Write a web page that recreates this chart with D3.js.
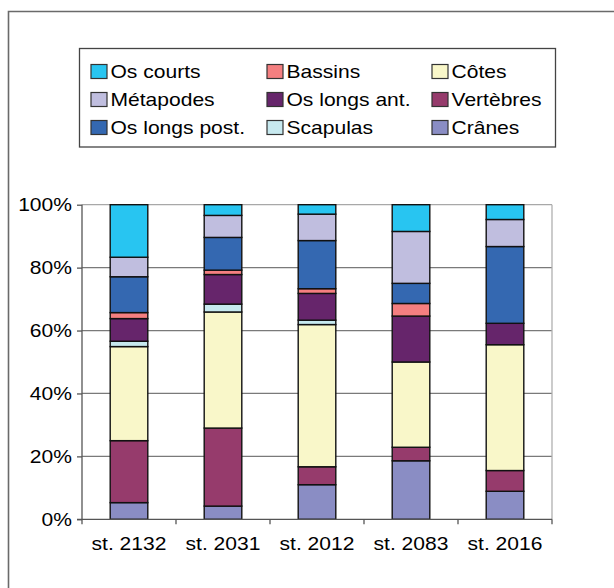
<!DOCTYPE html>
<html>
<head>
<meta charset="utf-8">
<script src="https://cdn.jsdelivr.net/npm/d3@7"></script>
<style>
  html, body { margin: 0; padding: 0; background: #fff; }
  svg { display: block; }
  text { font-family: "Liberation Sans", Arial, sans-serif; fill: #000; }
</style>
</head>
<body>
<svg id="chart" width="614" height="588"></svg>
<script>
// Sites (structures) and the share of each skeletal part, in percent
const categories = ["st. 2132", "st. 2031", "st. 2012", "st. 2083", "st. 2016"];
const cranes      = [5.3, 4.2, 11.0, 18.6, 8.9];
const vertebres   = [19.7, 24.8, 5.7, 4.3, 6.6];
const cotes       = [29.9, 36.9, 45.2, 27.1, 40.0];
const scapulas    = [1.7, 2.5, 1.4, 0, 0];
const osLongsAnt  = [7.2, 9.4, 8.5, 14.6, 6.8];
const bassins     = [1.9, 1.4, 1.5, 4.0, 0];
const osLongsPost = [11.4, 10.4, 15.3, 6.4, 24.4];
const metapodes   = [6.2, 7.0, 8.4, 16.5, 8.6];
const osCourts    = [16.7, 3.4, 3.0, 8.5, 4.7];
const yTicks      = [0, 0.2, 0.4, 0.6, 0.8, 1];

// Stack order, bottom to top
const seriesNames = ["Crânes", "Vertèbres", "Côtes", "Scapulas", "Os longs ant.",
                     "Bassins", "Os longs post.", "Métapodes", "Os courts"];
const seriesValues = [cranes, vertebres, cotes, scapulas, osLongsAnt,
                      bassins, osLongsPost, metapodes, osCourts];
const colors = {
  "Os courts": "#28c5f1",
  "Bassins": "#f47f80",
  "Côtes": "#f9f7c9",
  "Métapodes": "#c0bedf",
  "Os longs ant.": "#66256b",
  "Vertèbres": "#963b6c",
  "Os longs post.": "#3468b1",
  "Scapulas": "#c7e9ef",
  "Crânes": "#8a8dc4"
};
// Legend reading order (three columns, row by row)
const legendOrder = ["Os courts", "Bassins", "Côtes",
                     "Métapodes", "Os longs ant.", "Vertèbres",
                     "Os longs post.", "Scapulas", "Crânes"];

const rows = categories.map((c, i) => {
  const r = { cat: c };
  seriesNames.forEach((s, k) => { r[s] = seriesValues[k][i]; });
  return r;
});

const svg = d3.select("#chart");
const FS = 18, SX = 1.17; // text is drawn slightly widened

function label(g, x, y, str, anchor) {
  return g.append("text")
    .attr("transform", `translate(${x},${y}) scale(${SX},1)`)
    .attr("text-anchor", anchor || "start")
    .attr("font-size", FS)
    .text(str);
}

// Outer frame
svg.append("path")
  .attr("d", "M8.5,588 V11.5 H614")
  .attr("fill", "none").attr("stroke", "#6a6a6a").attr("stroke-width", 1.6);

// Plot area
const plot = { left: 82, right: 552, top: 204.7, bottom: 519.3 };

const x = d3.scaleBand().domain(categories)
  .range([plot.left, plot.right]).paddingInner(0.6).paddingOuter(0.3);
const y = d3.scaleLinear().domain([0, 1]).range([plot.bottom, plot.top]);

// Horizontal gridlines
svg.append("g").selectAll("line")
  .data(yTicks.filter(t => t > 0))
  .join("line")
  .attr("x1", plot.left).attr("x2", plot.right)
  .attr("y1", d => y(d)).attr("y2", d => y(d))
  .attr("stroke", d => d === 1 ? "#a8a8a8" : "#7a7a7a").attr("stroke-width", 1.3);

// Right border of the plot area
svg.append("line")
  .attr("x1", plot.right).attr("x2", plot.right)
  .attr("y1", plot.top).attr("y2", plot.bottom)
  .attr("stroke", "#b0b0b0").attr("stroke-width", 1.3);

// Stacked bars, normalised to 100 %
const stack = d3.stack().keys(seriesNames).offset(d3.stackOffsetExpand);
const layers = stack(rows);

svg.append("g").selectAll("g")
  .data(layers)
  .join("g")
  .attr("fill", d => colors[d.key])
  .selectAll("rect")
  .data(d => d.filter(p => p[1] - p[0] > 0))
  .join("rect")
  .attr("x", d => x(d.data.cat))
  .attr("width", x.bandwidth())
  .attr("y", d => y(d[1]))
  .attr("height", d => y(d[0]) - y(d[1]))
  .attr("stroke", "#111").attr("stroke-width", 1.4);

// Y axis
const yAxis = svg.append("g")
  .attr("transform", `translate(${plot.left},0)`)
  .call(d3.axisLeft(y).tickValues(yTicks).tickSize(5).tickFormat(() => ""));
yAxis.selectAll("path, line").attr("stroke", "#555").attr("stroke-width", 1.3);
yAxis.select(".domain").attr("d", `M0,${plot.top}V${plot.bottom}`);
const fmt = d3.format(".0%");
yTicks.forEach(t => label(svg, 72, y(t) + 6.5, fmt(t), "end"));

// X axis with ticks between categories
const xAxis = svg.append("g")
  .attr("transform", `translate(0,${plot.bottom})`);
xAxis.append("line")
  .attr("x1", plot.left - 5).attr("x2", plot.right)
  .attr("stroke", "#555").attr("stroke-width", 1.3);
const step = x.step();
xAxis.selectAll("line.tick")
  .data(d3.range(categories.length + 1))
  .join("line").attr("class", "tick")
  .attr("x1", i => plot.left + i * step).attr("x2", i => plot.left + i * step)
  .attr("y1", 0).attr("y2", 5)
  .attr("stroke", "#555").attr("stroke-width", 1.3);
categories.forEach(c => label(svg, x(c) + x.bandwidth() / 2, 549.5, c, "middle"));

// Legend
const legend = svg.append("g");
legend.append("rect")
  .attr("x", 79.5).attr("y", 48.5).attr("width", 476).attr("height", 98.5)
  .attr("fill", "#fff").attr("stroke", "#444").attr("stroke-width", 1.3);
const colX = [91, 267, 432];
const rowY = [71.5, 99.5, 127.5];
legendOrder.forEach((name, i) => {
  const cx = colX[i % 3], cy = rowY[Math.floor(i / 3)];
  legend.append("rect")
    .attr("x", cx).attr("y", cy - 7).attr("width", 16).attr("height", 14)
    .attr("fill", colors[name]).attr("stroke", "#333").attr("stroke-width", 1.2);
  label(legend, cx + 19.5, cy + 6.5, name, "start");
});
</script>
</body>
</html>
